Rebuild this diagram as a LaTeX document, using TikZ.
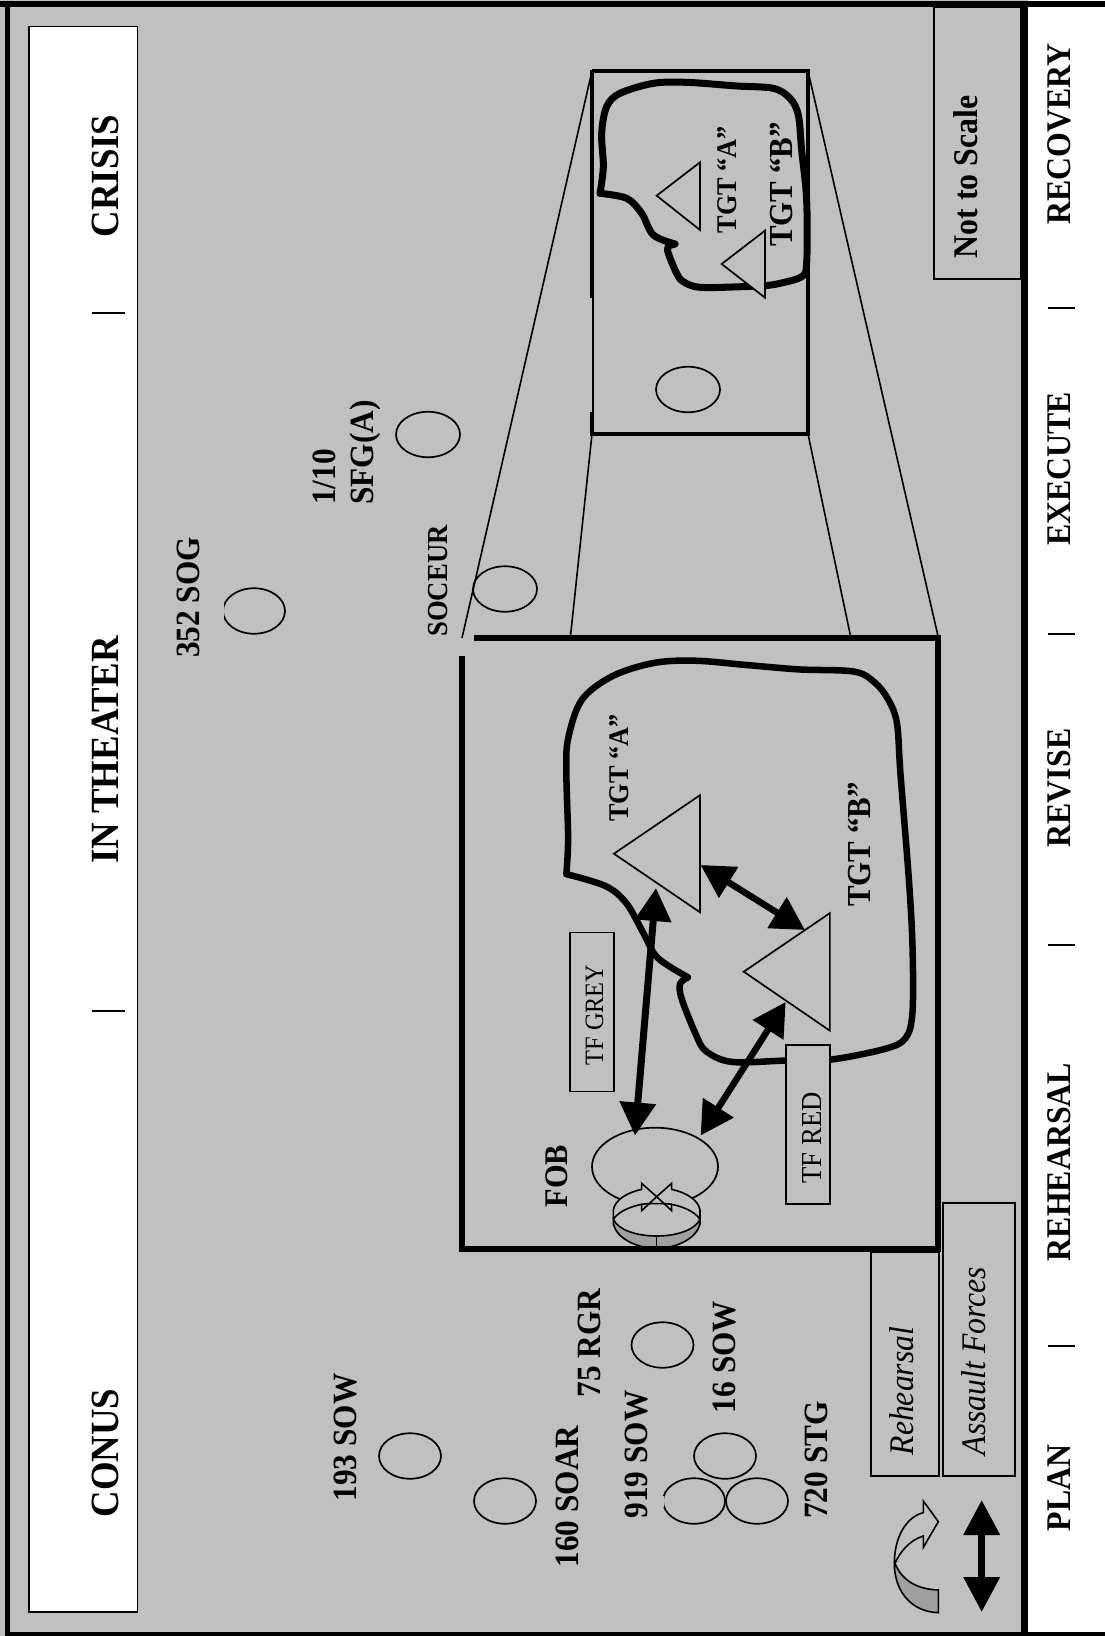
\documentclass[tikz,border=0pt]{standalone}
\usepackage{fontspec}
\setmainfont[FakeStretch=0.92]{Liberation Serif}
\usetikzlibrary{arrows.meta,shapes.geometric}
\definecolor{bg}{HTML}{C0C0C0}
\definecolor{dk}{HTML}{A0A0A0}
\tikzset{
 lab/.style={rotate=90,anchor=base,inner sep=0pt,font=\bfseries\fontsize{#1}{36}\selectfont},
 ital/.style={rotate=90,anchor=base,inner sep=0pt,font=\itshape\fontsize{34.5}{36}\selectfont},
 tftext/.style={rotate=90,anchor=base,inner sep=0pt,font=\fontsize{#1}{30}\selectfont},
 unit/.style={draw=black,line width=1.7pt,ellipse,minimum width=#1,minimum height=45.5pt,inner sep=0pt},
 tfbox/.style={draw=black,line width=1.6pt,fill=bg,rotate=90,minimum width=159pt,minimum height=44pt,inner sep=0pt},
 blob/.style={line width=6.5pt,line cap=round,line join=round},
 tri/.style={draw=black,line width=1.7pt,fill=bg,line join=miter},
 thin box/.style={draw=black,line width=1.6pt,fill=bg},
 per/.style={line width=1.6pt},
 ln/.style={line width=1.6pt,line join=miter},
 dbl/.style={{Triangle[length=33pt,width=35pt]}-{Triangle[length=33pt,width=35pt]},line width=#1},
 sep/.style={line width=2pt}
}
\begin{document}
\begin{tikzpicture}[x=1pt,y=-1pt]
\useasboundingbox (0,0) rectangle (1105,1636);
\fill[bg] (0,0) rectangle (1105,1636);
\fill[white] (1028,0) rectangle (1105,1636);
% frame
\fill (0,1) rectangle (1105,7);
\fill (5,1) rectangle (10,1636);
\fill (5,1632) rectangle (1105,1636);
\fill (1021,1) rectangle (1028,1636);
% CONUS box
\draw[line width=1.8pt,fill=white] (29,26.5) rectangle (137.5,1612);
\node[lab=40] (crisis) at (118,176) {CRISIS};
\node[lab=40] (theater) at (118,750) {IN THEATER};
\node[lab=40] (conus) at (118,1453) {CONUS};
\coordinate (s1a) at (92,313); \coordinate (s1b) at (125,313);
\coordinate (s2a) at (92,1011); \coordinate (s2b) at (125,1011);
\draw[sep] (s1a) -- (s1b); \draw[sep] (s2a) -- (s2b);
% right strip
\node[lab=34.6] (recovery) at (1070,134) {RECOVERY};
\node[lab=34.6] (execute) at (1070,469) {EXECUTE};
\node[lab=34.6] (revise) at (1070,788) {REVISE};
\node[lab=34.6] (rehearsal) at (1070,1162) {REHEARSAL};
\node[lab=34.6] (plan) at (1070,1488) {PLAN};
\foreach \yy in {308,634,945,1346}{\draw[sep] (1048,\yy) -- (1075,\yy);}
% not to scale
\draw[thin box] (934,7) rectangle (1021,279);
\node[lab=34.6] (nts) at (977,177) {Not to Scale};
% perspective lines
\coordinate (ultl) at (592,71); \coordinate (ulbl) at (592,434);
\coordinate (urtr) at (808,71); \coordinate (urbr) at (808,434);
\coordinate (m1) at (462,638); \coordinate (m2) at (570.5,636);
\coordinate (m3) at (850.5,636); \coordinate (m4) at (938,636);
\draw[per] (ultl) -- (m1); \draw[per] (ulbl) -- (m2);
\draw[per] (urbr) -- (m3); \draw[per] (urtr) -- (m4);
% upper box
\draw[line width=3.3pt] (592,71) -- (808,71) -- (808,434) -- (592,434);
\draw[line width=4.2pt] (592,69.5) -- (592,298);
\draw[line width=2.3pt] (592.9,298) -- (592.9,412);
\draw[line width=4.2pt] (592,412) -- (592,435.6);
\begin{scope}[shift={(570,50)},x=0.3333pt,y=-0.3333pt]
\draw[blob,line width=7pt] plot[smooth,tension=.55] coordinates {(90,430) (100,350) (95,250) (110,170) (150,130) (250,100) (350,97) (500,108) (610,115) (660,145) (685,195) (695,300) (710,450) (710,640) (695,680) (630,700) (585,707) (520,710) (390,712) (340,695) (320,670) (295,610) (295,590) (315,582)};
\draw[blob,line width=7pt] plot[smooth,tension=.55] coordinates {(315,582) (250,555) (215,490) (170,445) (90,430)};
\draw[tri] (260,437) -- (390,337) -- (390,540) -- cycle;
\draw[tri] (455,642) -- (585,542) -- (585,743) -- cycle;
\end{scope}
\node[unit=64pt] (uell) at (688,389.5) {};
\node[lab=28.5] (ua) at (736,179.5) {TGT “A”};
\node[lab=33.6] (ub) at (792,184.5) {TGT “B”};
% main box
\draw[line width=5.5pt] (474,638) -- (938,638) -- (938,1249) -- (462,1249) -- (462,656);
\begin{scope}[shift={(420,600)},x=0.3444pt,y=-0.4337pt]
\draw[blob] plot[smooth,tension=.55] coordinates {(425,632) (430,550) (425,400) (430,320) (470,230) (560,175) (680,145) (800,140) (950,150) (1100,160) (1260,165) (1320,190) (1360,230) (1385,285) (1395,400) (1420,650) (1430,800) (1430,950) (1410,1010) (1350,1035) (1190,1060) (1060,1062) (905,1065) (830,1040) (800,1000) (760,920) (755,885) (778,870)};
\draw[blob] plot[smooth,tension=.55] coordinates {(778,870) (690,825) (650,770) (600,700) (540,660) (425,632)};
\draw[tri] (563,585) -- (813,450) -- (813,720) -- cycle;
\draw[tri] (940,857) -- (1190,722) -- (1190,993) -- cycle;
\end{scope}
\node[tfbox] (tfgrey) at (591.8,1012) {};
\node[tfbox] (tfred) at (808,1124.5) {};
\node[tftext=26.5] (tfgreyt) at (603,1015) {TF GREY};
\node[tftext=29] (tfredt) at (821,1138) {TF RED};
\node[lab=28.5] (ma) at (628,768) {TGT “A”};
\node[lab=33.6] (mb) at (870,844.5) {TGT “B”};
\node[lab=33] (fob) at (567,1176) {FOB};
% FOB base + ring
\node[draw=black,line width=1.7pt,ellipse,minimum width=126pt,minimum height=78pt,inner sep=0pt] (fobell) at (655,1166.7) {};
\begin{scope}[shift={(560,1100)},x=0.3333pt,y=-0.3333pt]
\fill[bg] (160,335) .. controls (165,300) and (200,278) .. (245,268) -- (290,290) -- (335,268) .. controls (380,278) and (415,300) .. (420,335) -- (420,372) -- (290,445) -- (160,372) -- cycle;
\fill[dk,draw=black,line width=1.6pt] (160,358) .. controls (175,390) and (230,408) .. (290,408) .. controls (350,408) and (405,390) .. (420,358) -- (420,372) .. controls (410,415) and (350,445) .. (290,445) .. controls (230,445) and (170,415) .. (160,372) -- cycle;
\draw[ln] (160,358) -- (160,330) .. controls (165,300) and (200,278) .. (245,268) -- (245,250) -- (290,290) -- (245,332) -- (245,313) .. controls (210,320) and (175,335) .. (160,358);
\draw[ln] (420,358) -- (420,330) .. controls (415,300) and (380,278) .. (335,268) -- (335,250) -- (290,290) -- (335,332) -- (335,313) .. controls (370,320) and (405,335) .. (420,358);
\draw[line width=1.6pt] (245,313) .. controls (260,310) and (320,310) .. (335,313);
\draw[line width=1.6pt] (290,408) -- (290,445);
\end{scope}
\fill (459.25,1246.25) rectangle (940.75,1251.75);
% arrows
\coordinate (a1) at (635,1135.5); \coordinate (a2) at (656,888);
\coordinate (b1) at (700.6,865); \coordinate (b2) at (805,930);
\coordinate (c1) at (700.6,1135.5); \coordinate (c2) at (785.7,1002);
\draw[dbl=7pt] (a1) -- (a2);
\draw[dbl=6.5pt] (b1) -- (b2);
\draw[dbl=6.5pt] (c1) -- (c2);
% unit ellipses and labels
\node[unit=62pt] (e193) at (410,1456) {};
\node[unit=62pt] (e160) at (505,1501) {};
\node[unit=62pt] (e75) at (662.5,1345) {};
\node[unit=62pt] (e16) at (725,1456) {};
\node[unit=62pt] (e919) at (694,1501) {};
\node[unit=62pt] (e720) at (757,1501) {};
\node[unit=62pt] (e352) at (254,611) {};
\fill[bg] (221,602) rectangle (224.3,620);
\fill[bg] (661,1496) rectangle (663.8,1507);
\node[unit=64pt] (e110) at (428,434.5) {};
\node[unit=64pt] (esoc) at (505,589) {};
\node[lab=34] (l193) at (356,1437.5) {193 SOW};
\node[lab=34] (l160) at (578,1496.5) {160 SOAR};
\node[lab=34] (l75) at (600,1343) {75 RGR};
\node[lab=34] (l919) at (647,1454.5) {919 SOW};
\node[lab=34] (l16) at (735,1357) {16 SOW};
\node[lab=34] (l720) at (827,1460) {720 STG};
\node[lab=34] (l352) at (199,597.5) {352 SOG};
\node[lab=29] (lsoc) at (447,581) {SOCEUR};
\node[lab=34] (l110a) at (335,477) {1/10};
\node[lab=34] (l110b) at (373,452.5) {SFG(A)};
% rehearsal boxes
\draw[thin box] (871,1252) rectangle (939,1476);
\draw[thin box] (943,1203) rectangle (1015,1476);
\node[ital] (reh) at (913,1391) {Rehearsal};
\node[ital] (ass) at (985,1361) {Assault Forces};
% curved arrow
\begin{scope}[shift={(860,1440)},x=0.3333pt,y=-0.3333pt]
\fill[dk,draw=black,line width=1.6pt] (105,370) .. controls (125,420) and (170,448) .. (235,450) -- (235,518) .. controls (150,515) and (103,450) .. (103,370) -- cycle;
\draw[ln] (103,370) .. controls (103,290) and (140,230) .. (190,218) -- (190,183) -- (235,245) -- (190,322) -- (190,288) .. controls (150,300) and (120,335) .. (105,370);
\end{scope}
\coordinate (d1) at (981.7,1500); \coordinate (d2) at (981.7,1612);
\draw[{Triangle[length=35pt,width=35pt]}-{Triangle[length=35pt,width=35pt]},line width=7pt] (d1) -- (d2);
\end{tikzpicture}
\end{document}
